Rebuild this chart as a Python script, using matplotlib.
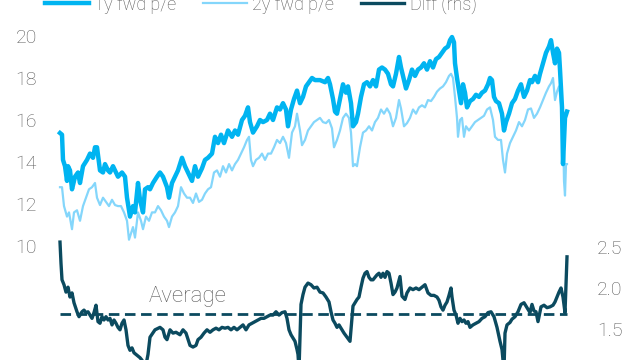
import matplotlib
matplotlib.use('Agg')
import matplotlib.pyplot as plt

plt.rcParams['font.family'] = ['Roboto', 'DejaVu Sans']

# weekly index from start of sample
wk_1y = [0, 2, 3, 5, 7, 8, 10, 12, 15, 18, 20, 23, 27, 30, 33, 35, 37, 40, 43, 45,
         48, 50, 53, 55, 58, 62, 65, 67, 70, 73, 75, 78, 80, 83, 85, 88, 90, 93, 97, 100,
         103, 107, 109, 112, 115, 118, 122, 125, 128, 132, 135, 138, 142, 145, 148, 152, 155, 158, 161, 164,
         168, 172, 175, 178, 182, 185, 188, 190, 193, 197, 200, 203, 207, 210, 213, 217, 220, 223, 226, 228,
         231, 234, 237, 240, 243, 246, 249, 252, 255, 260, 265, 268, 270, 273, 275, 277, 280, 283, 286, 288,
         291, 293, 296, 298, 301, 304, 307, 310, 313, 316, 319, 322, 325, 328, 331, 333, 336, 339, 341, 344,
         346, 349, 352, 355, 358, 361, 364, 367, 370, 373, 376, 379, 382, 385, 388, 390, 392, 394, 395, 397,
         399, 401, 403, 405, 407, 410, 413, 416, 419, 422, 425, 428, 430, 432, 434, 436, 439, 442, 444, 446,
         449, 452, 455, 458, 461, 464, 467, 470, 472, 475, 478, 480, 483, 486, 489, 491, 493, 495, 497, 499,
         500, 502, 503, 505, 507]
pe_1y = [15.38, 15.3, 14.1, 13.8, 13.1, 13.8, 13.6, 12.7, 13.3, 13.5, 13.0, 13.8, 14.1, 14.4, 14.2, 14.7, 14.7, 13.6, 13.5, 13.9,
         13.6, 13.5, 13.8, 13.6, 13.3, 13.5, 13.3, 12.3, 11.4, 11.9, 11.6, 13.0, 12.2, 11.6, 12.7, 12.8, 12.7, 13.0, 13.3, 13.5,
         13.3, 12.8, 12.3, 13.0, 13.3, 13.6, 14.2, 13.8, 13.5, 13.1, 13.8, 13.3, 13.7, 14.1, 14.2, 14.4, 15.2, 14.9, 15.3, 14.9,
         15.5, 15.2, 15.5, 15.3, 16.0, 16.2, 16.6, 15.9, 15.4, 15.7, 16.0, 15.9, 16.0, 16.3, 16.0, 16.6, 16.5, 16.8, 16.5, 15.7,
         16.5, 17.0, 17.4, 16.8, 17.1, 17.6, 17.8, 18.0, 17.9, 17.9, 17.8, 18.0, 17.7, 17.0, 16.4, 16.3, 17.0, 17.7, 17.3, 17.6,
         16.8, 15.7, 15.9, 16.3, 17.1, 17.7, 17.8, 17.6, 17.9, 17.6, 18.4, 18.5, 18.4, 18.2, 17.7, 17.6, 18.2, 19.0, 18.5, 17.9,
         17.5, 17.9, 18.4, 18.1, 18.4, 18.5, 18.7, 18.4, 18.8, 18.5, 18.9, 19.0, 19.2, 19.4, 19.5, 19.8, 19.95, 19.7, 18.7, 18.0,
         17.4, 16.8, 17.7, 17.3, 16.6, 16.9, 17.0, 17.2, 17.1, 17.3, 17.4, 17.7, 18.0, 17.9, 17.1, 16.9, 16.8, 16.3, 15.5, 15.9,
         16.3, 16.8, 17.0, 17.4, 17.7, 17.1, 17.4, 17.9, 17.8, 18.1, 17.8, 18.2, 18.7, 19.2, 19.5, 19.8, 19.2, 18.7, 19.4, 19.2,
         18.4, 16.6, 13.9, 16.1, 16.4]

wk_2y = [0, 2, 4, 7, 9, 12, 14, 17, 20, 23, 26, 29, 32, 35, 37, 40, 43, 46, 49, 52,
         55, 58, 61, 64, 67, 69, 71, 73, 75, 78, 81, 83, 86, 89, 92, 95, 98, 101, 104, 107,
         109, 112, 115, 118, 121, 124, 127, 130, 133, 136, 139, 142, 145, 148, 151, 154, 157, 160, 163, 166,
         169, 172, 175, 178, 181, 184, 187, 189, 191, 193, 196, 199, 202, 205, 208, 211, 214, 217, 220, 223,
         226, 229, 232, 235, 237, 240, 242, 245, 248, 251, 254, 257, 260, 263, 266, 269, 272, 274, 277, 280,
         283, 286, 289, 291, 293, 295, 297, 300, 303, 306, 309, 312, 315, 318, 321, 324, 327, 330, 333, 336,
         339, 341, 344, 347, 350, 353, 356, 359, 362, 365, 368, 371, 374, 377, 380, 383, 386, 389, 391, 393,
         395, 397, 398, 400, 402, 404, 406, 409, 412, 415, 418, 421, 424, 427, 430, 433, 435, 438, 441, 443,
         445, 447, 450, 453, 456, 459, 462, 465, 468, 471, 474, 477, 480, 483, 486, 489, 491, 493, 495, 497,
         499, 501, 503, 504, 505, 506, 507]
pe_2y = [12.8, 12.8, 11.9, 11.4, 11.6, 10.8, 11.6, 11.7, 11.2, 11.9, 12.3, 12.7, 12.8, 13.0, 12.3, 11.95, 12.3, 12.1, 11.9, 12.2,
         11.95, 11.9, 11.9, 11.6, 11.2, 10.3, 10.6, 10.9, 10.4, 11.6, 11.2, 10.8, 11.4, 11.2, 11.6, 11.6, 11.9, 11.7, 11.4, 11.2,
         10.9, 11.4, 11.6, 11.9, 12.8, 12.5, 12.3, 12.3, 12.05, 12.5, 12.1, 12.2, 12.5, 12.7, 12.8, 13.5, 13.6, 13.3, 13.8, 13.5,
         13.9, 13.6, 13.9, 14.1, 14.4, 14.7, 15.05, 15.2, 14.1, 13.8, 14.1, 14.2, 14.4, 14.1, 14.4, 14.4, 14.7, 15.05, 14.9, 15.2,
         14.9, 14.2, 15.4, 15.7, 16.3, 15.5, 14.8, 15.05, 15.5, 15.7, 15.9, 16.0, 16.1, 15.9, 15.85, 16.0, 15.6, 14.7, 15.05, 15.5,
         16.1, 16.3, 16.1, 15.4, 13.8, 13.9, 13.8, 14.7, 15.4, 15.5, 15.7, 15.5, 15.9, 16.1, 16.5, 16.3, 16.55, 16.3, 15.7, 16.1,
         16.95, 16.55, 15.7, 15.85, 16.1, 16.5, 16.3, 16.6, 16.7, 16.6, 16.95, 16.9, 17.1, 17.35, 17.5, 17.6, 17.8, 18.1, 18.2, 18.0,
         17.1, 16.1, 15.2, 16.0, 16.1, 15.2, 15.7, 15.5, 15.7, 15.9, 16.0, 16.1, 16.2, 16.5, 16.6, 16.0, 15.2, 15.05, 15.05, 14.1,
         13.5, 14.4, 14.9, 15.2, 15.5, 15.9, 15.7, 16.0, 16.5, 16.55, 16.1, 16.3, 16.6, 16.95, 17.3, 17.6, 17.75, 18.0, 16.95, 17.35,
         17.6, 16.8, 15.7, 13.1, 12.4, 13.9, 13.9]

wk_diff = [0, 1, 2, 4, 6, 8, 10, 12, 14, 17,
           19, 22, 24, 26, 28, 30, 32, 34, 36, 38,
           40, 42, 44, 46, 48, 50, 52, 54, 56, 58,
           60, 62, 64, 66, 68, 70, 72, 74, 77, 80,
           82, 85, 88, 90, 95, 100, 103, 105, 107, 110,
           113, 116, 120, 123, 126, 130, 133, 136, 138, 141,
           144, 147, 150, 153, 156, 159, 162, 165, 168, 171,
           174, 177, 180, 183, 186, 189, 192, 195, 198, 201,
           204, 207, 210, 213, 216, 219, 222, 225, 227, 229,
           231, 235, 237, 238, 239, 240, 241, 243, 245, 248,
           251, 254, 257, 260, 263, 266, 269, 271, 273, 275,
           277, 279, 282, 284, 287, 290, 291, 293, 295, 297,
           299, 301, 303, 305, 307, 309, 311, 313, 315, 317,
           319, 321, 323, 325, 327, 329, 331, 333, 335, 337,
           340, 342, 345, 347, 350, 353, 356, 359, 362, 365,
           368, 371, 374, 377, 379, 381, 383, 385, 387, 389,
           391, 392, 394, 396, 398, 400, 402, 404, 406, 408,
           410, 413, 416, 419, 422, 425, 428, 431, 434, 437,
           440, 442, 443, 444, 445, 447, 450, 452, 455, 458,
           461, 464, 467, 470, 472, 474, 476, 478, 481, 484,
           487, 490, 493, 495, 497, 499, 501, 503, 505, 507]
diff = [2.56, 2.30, 2.10, 2.04, 1.95, 2.01, 1.89, 1.94, 1.82, 1.71,
        1.65, 1.71, 1.73, 1.70, 1.71, 1.67, 1.63, 1.70, 1.79, 1.59,
        1.57, 1.65, 1.61, 1.65, 1.61, 1.63, 1.55, 1.61, 1.57, 1.52,
        1.49, 1.57, 1.61, 1.49, 1.30, 1.24, 1.27, 1.21, 1.18, 1.15,
        1.12, 1.00, 1.19, 1.40, 1.49, 1.52, 1.49, 1.40, 1.37, 1.49,
        1.45, 1.46, 1.43, 1.49, 1.45, 1.30, 1.28, 1.30, 1.37, 1.40,
        1.45, 1.49, 1.46, 1.49, 1.51, 1.49, 1.52, 1.51, 1.52, 1.49,
        1.52, 1.49, 1.52, 1.55, 1.49, 1.55, 1.57, 1.59, 1.61, 1.63,
        1.63, 1.65, 1.67, 1.67, 1.71, 1.67, 1.70, 1.71, 1.63, 1.49,
        1.43, 1.35, 1.25, 1.19, 1.00, 1.40, 1.80, 1.92, 2.01, 2.06,
        2.04, 2.00, 2.01, 1.95, 1.94, 1.89, 1.83, 1.71, 1.61, 1.57,
        1.52, 1.55, 1.49, 1.45, 1.40, 1.35, 1.49, 1.78, 1.82, 1.86,
        1.89, 2.01, 2.12, 2.18, 2.20, 2.13, 2.10, 2.10, 2.13, 2.16,
        2.18, 2.13, 2.18, 2.13, 2.20, 2.18, 2.06, 1.92, 1.95, 2.00,
        2.14, 1.90, 1.86, 1.94, 2.00, 1.98, 2.00, 1.98, 2.01, 2.04,
        1.94, 1.91, 1.91, 1.89, 1.85, 1.77, 1.73, 1.79, 1.83, 1.91,
        2.00, 1.89, 1.73, 1.67, 1.57, 1.63, 1.59, 1.61, 1.57, 1.59,
        1.52, 1.55, 1.57, 1.59, 1.63, 1.65, 1.70, 1.71, 1.65, 1.52,
        1.35, 1.25, 1.12, 1.00, 1.45, 1.55, 1.58, 1.62, 1.65, 1.71,
        1.80, 1.82, 1.76, 1.70, 1.80, 1.72, 1.71, 1.59, 1.77, 1.79,
        1.76, 1.77, 1.79, 1.83, 1.89, 1.95, 2.00, 1.89, 1.70, 2.38]

diff_avg = 1.68

c_1y = '#00b4f1'
c_2y = '#84d6fb'
c_diff = '#0b4a5f'
grey = '#595959'

fig = plt.figure(figsize=(6.4, 3.6), dpi=100)
ax = fig.add_axes([55 / 640, 0, 520 / 640, 1])
ax2 = ax.twinx()

l2, = ax.plot(wk_2y, pe_2y, color=c_2y, lw=1.6, label='2y fwd p/e')
l1, = ax.plot(wk_1y, pe_1y, color=c_1y, lw=3.2, label='1y fwd p/e')
l3, = ax2.plot(wk_diff, diff, color=c_diff, lw=2.4, label='Diff (rhs)')
ax2.plot([wk_diff[0], wk_diff[-1]], [diff_avg, diff_avg], color=c_diff, lw=2.0,
         dashes=(3.8, 2.0))
ax2.text(127.5, 1.835, 'Average', color=grey, fontsize=16, ha='center', va='baseline',
         fontweight='light')

ax.set_xlim(-5, 515)
ax.set_ylim(4.571, 21.714)
ax2.set_ylim(1.122, 5.512)
ax.set_yticks([10, 12, 14, 16, 18, 20])
ax2.set_yticks([1.5, 2.0, 2.5])
ax2.set_yticklabels(['1.5', '2.0', '2.5'])
ax.set_xticks([])

for a in (ax, ax2):
    for s in a.spines.values():
        s.set_visible(False)
    a.tick_params(length=0, labelsize=14, labelcolor=grey)
    for t in a.get_yticklabels():
        t.set_fontweight('light')
ax.tick_params(axis='y', pad=13)
ax2.tick_params(axis='y', pad=16)

fig.legend([l1, l2, l3], ['1y fwd p/e', '2y fwd p/e', 'Diff (rhs)'],
           loc='center', bbox_to_anchor=(261 / 640, 1 - 4.5 / 360), ncol=3,
           frameon=False, handlelength=2.4, handletextpad=0.3, columnspacing=1.5,
           prop={'size': 13, 'weight': 'light'}, labelcolor=grey, borderpad=0)

fig.savefig('out.png', dpi=100)
